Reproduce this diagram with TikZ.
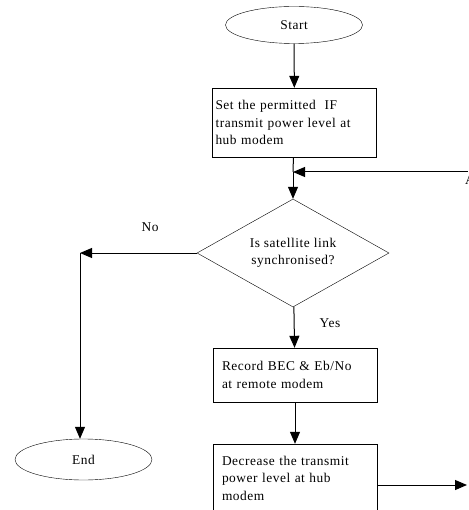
\documentclass[tikz,border=0pt]{standalone}
\usepackage{fontspec}
\setmainfont[LetterSpace=4]{Liberation Serif}
\usetikzlibrary{shapes.geometric,arrows.meta}

\begin{document}
\begin{tikzpicture}[x=1pt,y=-1pt,font=\fontsize{13.4}{17.5}\selectfont,
	term/.style={draw,ellipse,minimum width=137pt,minimum height=37pt,inner sep=0pt},
	proc/.style={draw,rectangle,minimum width=164pt,text width=146pt,align=left,inner xsep=9pt},
	decision/.style={draw,diamond,aspect=1.78,minimum width=192pt,minimum height=108pt,inner sep=0pt,align=center},
	flow/.style={line width=1pt,-{Triangle[length=12pt,width=10pt]}}]
	
	\useasboundingbox (0,0) rectangle (468,510);
	
	\node[term] (start) at (294,25) {Start};
	\node[proc,minimum height=69pt,text width=158pt,inner xsep=3pt] (setpow) at (294.5,122.5) {Set the permitted\ \ IF\\ transmit power level at\\ hub modem};
	\node[decision] (sync) at (293,253) {Is satellite link\\ synchronised?};
	\node[proc,minimum height=54pt] (record) at (295,375) {Record BEC \& Eb/No\\ at remote modem};
	\node[proc,minimum height=68pt] (decr) at (295,478) {Decrease the transmit\\ power level at hub\\ modem};
	\node[term,minimum height=41pt] (end) at (83.5,459.5) {End};
	
	\node (no) at (150,227) {No};
	\node (yes) at (330,323) {Yes};
	\node[anchor=base west,inner sep=0pt] (cont) at (465,185) {A};
	
	\coordinate (merge) at (293,172);
	\coordinate (loopin) at (468,172);
	\coordinate (nocorner) at (80,253);
	\coordinate (out) at (467,485);
	
	\draw[flow] (start) -- (setpow);
	\draw[line width=1pt] (setpow) -- (merge);
	\draw[flow] (merge) -- (sync);
	\draw[flow] (loopin) -- (merge);
	%\draw[flow] (sync) -- (nocorner) -- (end);
	\draw[flow] (sync.west) -- (nocorner);
	\draw[flow] (nocorner) -- (nocorner |- end.north);
	\draw[flow] (sync) -- (record);
	\draw[flow] (record) -- (decr);
	\draw[flow] (decr.east |- out) -- (out);
	
\end{tikzpicture}
\end{document}
